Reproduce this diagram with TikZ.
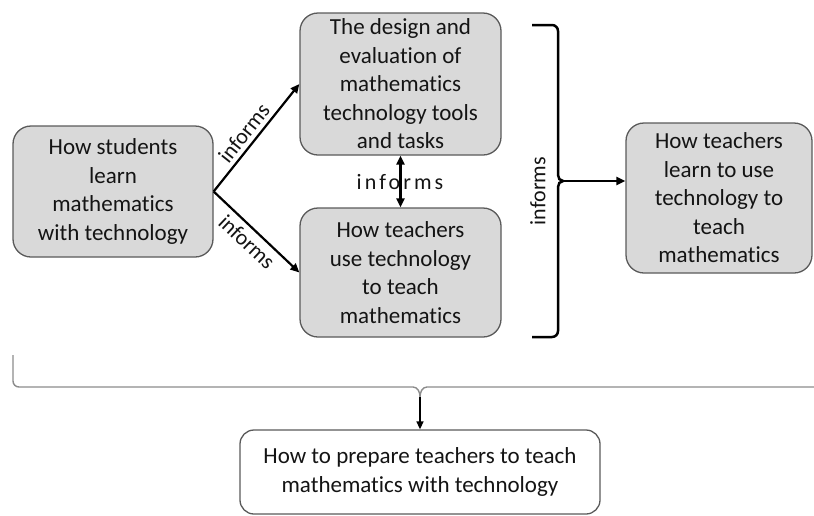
\documentclass[tikz,border=0pt]{standalone}
\usepackage{fontspec}
\setmainfont{Carlito}[Ligatures=NoCommon]
\usetikzlibrary{arrows.meta}
\definecolor{boxfill}{RGB}{217,217,217}
\definecolor{boxline}{RGB}{90,90,90}
\definecolor{txt}{RGB}{20,20,20}
\definecolor{bracegray}{RGB}{140,140,140}
\tikzset{
  box/.style={draw=boxline, line width=1.3pt, fill=boxfill, rounded corners=18pt,
    align=center, inner sep=0pt, text=txt, font=\fontsize{23}{28.5}\selectfont},
  whitebox/.style={box, fill=white, rounded corners=14pt},
  lbl/.style={inner sep=0pt, text=txt, font=\fontsize{22}{26}\selectfont},
  arr/.style={line width=2.2pt, -{Triangle[length=9pt,width=8pt]}},
  darr/.style={line width=2.2pt, {Triangle[length=9pt,width=8pt]}-{Triangle[length=9pt,width=8pt]}},
  bracket/.style={line width=2.5pt, black},
  bigbrace/.style={line width=1.4pt, draw=bracegray},
}
\begin{document}
\begin{tikzpicture}[x=1pt,y=-1pt]
\useasboundingbox (0,0) rectangle (814,515);

\node[box, minimum width=200pt, minimum height=131pt] (stud) at (113,191.5)
  {How students\\learn\\mathematics\\with technology};
\node[box, minimum width=201pt, minimum height=142pt] (design) at (400.5,84)
  {The design and\\evaluation of\\mathematics\\technology tools\\and tasks};
\node[box, minimum width=201pt, minimum height=129pt] (use) at (400.5,272.5)
  {How teachers\\use technology\\to teach\\mathematics};
\node[box, minimum width=186pt, minimum height=150pt] (learn) at (719,198)
  {How teachers\\learn to use\\technology to\\teach\\mathematics};
\node[whitebox, minimum width=360pt, minimum height=84pt] (prep) at (420,472)
  {How to prepare teachers to teach\\mathematics with technology};

% diagonal arrows
\draw[arr] (stud.east) -- node[lbl, sloped, above=4pt, pos=0.47] (l1) {informs} (design.west);
\draw[arr] (stud.east) -- node[lbl, sloped, below=5pt, pos=0.5] (l2) {informs} (use.west);

% double arrow
\draw[darr] (design.south) -- (use.north);
\node[lbl] (l3) at (400,182) {\addfontfeature{LetterSpace=14}informs};

% right bracket
\draw[bracket] (532,25) -- (552,25) to[out=0,in=90] (558,31) -- (558,175)
  to[out=-90,in=180] (563,181) coordinate (tip)
  to[out=180,in=90] (558,187) -- (558,331) to[out=-90,in=0] (552,337) -- (532,337);
\node[lbl, rotate=90] (l4) at (538,191) {informs};
\draw[arr] (tip) -- (tip -| learn.west);

% bottom brace
\draw[bigbrace] (13,355) -- (13,381) to[out=-90,in=180] (19,387) -- (413,387)
  to[out=0,in=90] (420,397) coordinate (btip)
  to[out=90,in=180] (427,387) -- (814,387);
\draw[line width=1.5pt, -{Triangle[length=8pt,width=7pt]}] (btip) -- (prep.north);
\end{tikzpicture}
\end{document}
